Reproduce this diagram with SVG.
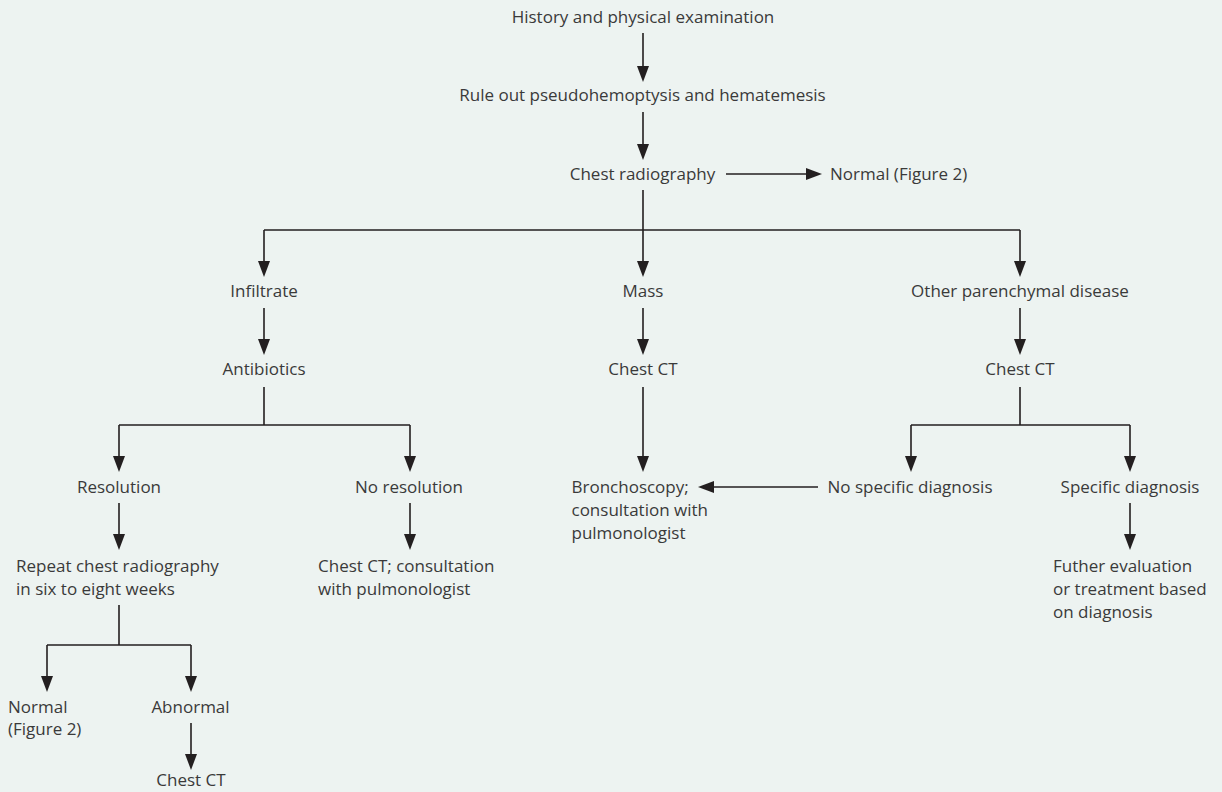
<svg xmlns="http://www.w3.org/2000/svg" width="1222" height="792" viewBox="0 0 1222 792">
  <style>
    text { font-family: "Open Sans", "Noto Sans", "Liberation Sans", sans-serif; font-size: 17px; fill: #3a3a3a; }
    .c { text-anchor: middle; }
    .l { text-anchor: start; }
    .ln { fill: none; stroke: #231f20; stroke-width: 1.6; }
    .ar { marker-end: url(#ah); }
  </style>
  <defs>
    <marker id="ah" viewBox="0 0 16 12" refX="8" refY="6" markerWidth="16" markerHeight="12" markerUnits="userSpaceOnUse" orient="auto">
      <path d="M0,0 L16,6 L0,12 z" fill="#231f20"/>
    </marker>
  </defs>
  <rect x="0" y="0" width="1222" height="792" fill="#edf3f1"/>

  <g id="connectors">
    <path class="ln ar" d="M643,33 V74"/>
    <path class="ln ar" d="M643,112 V152"/>
    <path class="ln ar" d="M726,174 H814"/>
    <path class="ln" d="M643,190 V230 M264,230 H1020"/>
    <path class="ln ar" d="M264,230 V269"/>
    <path class="ln ar" d="M643,230 V269"/>
    <path class="ln ar" d="M1020,230 V269"/>
    <path class="ln ar" d="M264,308 V347"/>
    <path class="ln ar" d="M643,308 V347"/>
    <path class="ln ar" d="M1020,308 V347"/>
    <path class="ln" d="M264,387 V425 M119,425 H410"/>
    <path class="ln ar" d="M119,425 V464"/>
    <path class="ln ar" d="M410,425 V464"/>
    <path class="ln ar" d="M643,387 V464"/>
    <path class="ln" d="M1020,387 V425 M911,425 H1130"/>
    <path class="ln ar" d="M911,425 V464"/>
    <path class="ln ar" d="M1130,425 V464"/>
    <path class="ln ar" d="M818,487 H706"/>
    <path class="ln ar" d="M119,503 V542"/>
    <path class="ln ar" d="M410,503 V542"/>
    <path class="ln ar" d="M1130,503 V542"/>
    <path class="ln" d="M119,605 V645 M47,645 H191"/>
    <path class="ln ar" d="M47,645 V684"/>
    <path class="ln ar" d="M191,645 V684"/>
    <path class="ln ar" d="M191,723 V762"/>
  </g>

  <g id="n-history"><text class="c" x="643" y="23">History and physical examination</text></g>
  <g id="n-ruleout"><text class="c" x="642.5" y="100.5">Rule out pseudohemoptysis and hematemesis</text></g>
  <g id="n-cxr"><text class="c" x="642.5" y="179.5">Chest radiography</text></g>
  <g id="n-normal1"><text class="l" x="830" y="179.5">Normal (Figure 2)</text></g>
  <g id="n-infiltrate"><text class="c" x="264" y="297">Infiltrate</text></g>
  <g id="n-mass"><text class="c" x="643" y="297">Mass</text></g>
  <g id="n-other"><text class="c" x="1020" y="297">Other parenchymal disease</text></g>
  <g id="n-antibiotics"><text class="c" x="264" y="375">Antibiotics</text></g>
  <g id="n-ct-mass"><text class="c" x="643" y="375">Chest CT</text></g>
  <g id="n-ct-other"><text class="c" x="1020" y="375">Chest CT</text></g>
  <g id="n-resolution"><text class="c" x="119" y="493">Resolution</text></g>
  <g id="n-noresolution"><text class="c" x="409" y="493">No resolution</text></g>
  <g id="n-bronch"><text class="l" x="571.5" y="493">Bronchoscopy;</text><text class="l" x="571.5" y="516">consultation with</text><text class="l" x="571.5" y="539">pulmonologist</text></g>
  <g id="n-nospecific"><text class="c" x="910" y="493">No specific diagnosis</text></g>
  <g id="n-specific"><text class="c" x="1130" y="493">Specific diagnosis</text></g>
  <g id="n-repeat"><text class="l" x="16" y="571.5">Repeat chest radiography</text><text class="l" x="16" y="594.5">in six to eight weeks</text></g>
  <g id="n-ct-consult"><text class="l" x="318" y="571.5">Chest CT; consultation</text><text class="l" x="318" y="594.5">with pulmonologist</text></g>
  <g id="n-further"><text class="l" x="1053" y="571.5">Futher evaluation</text><text class="l" x="1053" y="595">or treatment based</text><text class="l" x="1053" y="618">on diagnosis</text></g>
  <g id="n-normal2"><text class="l" x="8" y="712.5">Normal</text><text class="l" x="8" y="735">(Figure 2)</text></g>
  <g id="n-abnormal"><text class="c" x="190.5" y="712.5">Abnormal</text></g>
  <g id="n-ct-final"><text class="c" x="191" y="786">Chest CT</text></g>
</svg>
